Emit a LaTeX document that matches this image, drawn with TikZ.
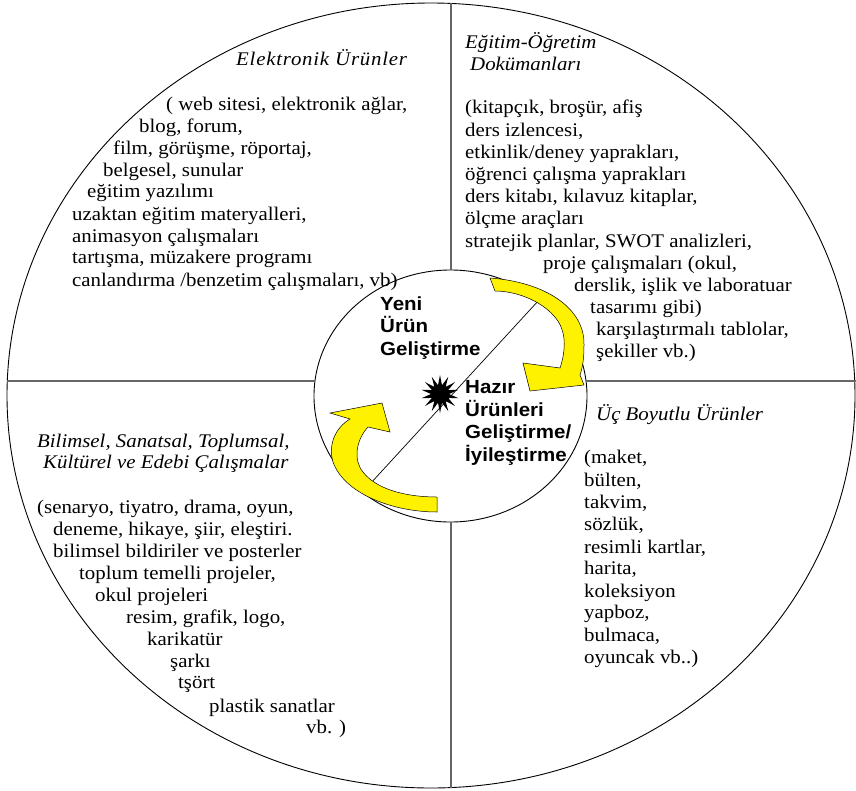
\documentclass[tikz,border=0pt]{standalone}
\usepackage{fontspec}
\setmainfont{Liberation Serif}[FakeStretch=1.08]
\newfontfamily\hubfont{Liberation Sans}[FakeStretch=1.08]
\usetikzlibrary{shapes.geometric}

\tikzstyle{ring} = [draw, line width=0.9pt]
\tikzstyle{split} = [draw, line width=1.3pt, gray!80!black]
\tikzstyle{axis line} = [draw, line width=0.7pt]
\tikzstyle{turn arrow} = [fill=yellow, draw=black, line width=0.5pt]
\tikzstyle{item} = [anchor=base west, inner sep=0pt, font=\fontsize{19.3}{22.2}\selectfont]
\tikzstyle{title} = [item, font=\fontsize{19.3}{22.2}\selectfont\itshape]
\tikzstyle{hub} = [item, font=\fontsize{19}{22.5}\hubfont\bfseries]

\begin{document}
\begin{tikzpicture}[x=1pt, y=-1pt]
  \useasboundingbox (0,0) rectangle (856,790);
  % outer and inner ring
  \path[ring] (431,395.5) ellipse [x radius=424, y radius=392.5];
  \path[ring] (450.5,396) ellipse [x radius=136.5, y radius=126];
  % quadrant borders
  \coordinate (w) at (7.3,381);
  \coordinate (wi) at (315,381);
  \coordinate (ei) at (586,381);
  \coordinate (e) at (856,381);
  \coordinate (n) at (451,3.4);
  \coordinate (ni) at (451,270);
  \coordinate (si) at (451,522);
  \coordinate (s) at (451,787.6);
  \coordinate (dl) at (370,484);
  \coordinate (du) at (539,300);
  \foreach \source/\sink in {w/wi, ei/e, n/ni, si/s} {
      \path[split] (\source) -- (\sink);
  }
  \path[axis line] (dl) -- (du);
  % turning arrows
  \path[turn arrow] (490,278) .. controls (545,282) and (585,308) .. (584,345)
      .. controls (584,357) and (583,366) .. (580,375) -- (584,385) -- (530,391) -- (523,363) -- (560,368)
      .. controls (566,350) and (567,330) .. (554,316) .. controls (540,300) and (515,291) .. (495,291) -- cycle;
  \path[turn arrow] (437,497) -- (437,512) .. controls (395,512) and (345,495) .. (333,462)
      .. controls (328,445) and (335,428) .. (350,419) -- (330,413) -- (382,403) -- (390,432) -- (368,427)
      .. controls (356,440) and (353,460) .. (363,472) .. controls (376,489) and (405,497) .. (437,497) -- cycle;
  \node[star, star points=14, star point ratio=2.1, minimum size=38pt, inner sep=0pt, fill=black] (burst) at (440,394) {};
  % hub labels
  \foreach \y/\t [count=\i] in {310/Yeni, 332/Ürün, 355/Geliştirme} {
      \node[hub] (new\i) at (380,\y) {\t};
  }
  \foreach \y/\t [count=\i] in {393/Hazır, 416/Ürünleri, 438/{Geliştirme/}, 461/İyileştirme} {
      \node[hub] (ready\i) at (465,\y) {\t};
  }
  % quadrant titles
  \node[title] (elec) at (236,65) {\addfontfeature{LetterSpace=4}Elektronik Ürünler};
  \node[title] (doc1) at (465,48) {Eğitim-Öğretim};
  \node[title] (doc2) at (470,70) {Dokümanları};
  \node[title] (art1) at (37,447) {Bilimsel, Sanatsal, Toplumsal,};
  \node[title] (art2) at (43,468) {Kültürel ve Edebi Çalışmalar};
  \node[title] (solid) at (596,420) {Üç Boyutlu Ürünler};
  % quadrant lists
  \foreach \x/\y/\t [count=\i] in {166/110/{( web sitesi, elektronik ağlar,}, 139/132/{blog, forum,}, 113/154/{film, görüşme, röportaj,}, 103/176/{belgesel, sunular}, 87/197/{eğitim yazılımı}, 72/220/{uzaktan eğitim materyalleri,}, 72/242/{animasyon çalışmaları}, 72/263/{tartışma, müzakere programı}, 72/286/{canlandırma /benzetim çalışmaları, vb)}} {
      \node[item] (elecitem\i) at (\x,\y) {\t};
  }
  \foreach \x/\y/\t [count=\i] in {465/113/{(kitapçık, broşür, afiş}, 465/136/{ders izlencesi,}, 465/158/{etkinlik/deney yaprakları,}, 465/180/{öğrenci çalışma yaprakları}, 465/202/{ders kitabı, kılavuz kitaplar,}, 465/224/{ölçme araçları}, 465/247/{stratejik planlar, SWOT analizleri,}, 543/269/{proje çalışmaları (okul,}, 574/291/{derslik, işlik ve laboratuar}, 590/313/{tasarımı gibi)}, 596/335/{karşılaştırmalı tablolar,}, 596/357/{şekiller vb.)}} {
      \node[item] (docitem\i) at (\x,\y) {\t};
  }
  \foreach \x/\y/\t [count=\i] in {37/513/{(senaryo, tiyatro, drama, oyun,}, 53/535/{deneme, hikaye, şiir, eleştiri.}, 53/557/{bilimsel bildiriler ve posterler}, 79/579/{toplum temelli projeler,}, 95/601/{okul projeleri}, 126/623/{resim, grafik, logo,}, 147/645/{karikatür}, 170/667/{şarkı}, 178/688/{tşört}, 209/712/{plastik sanatlar}, 306/733/{vb. )}} {
      \node[item] (artitem\i) at (\x,\y) {\t};
  }
  \foreach \y/\t [count=\i] in {463/{(maket,}, 486/{bülten,}, 508/{takvim,}, 530/{sözlük,}, 553/{resimli kartlar,}, 574/{harita,}, 597/{koleksiyon}, 618/{yapboz,}, 641/{bulmaca,}, 663/{oyuncak vb..)}} {
      \node[item] (soliditem\i) at (584,\y) {\t};
  }
\end{tikzpicture}
\end{document}
